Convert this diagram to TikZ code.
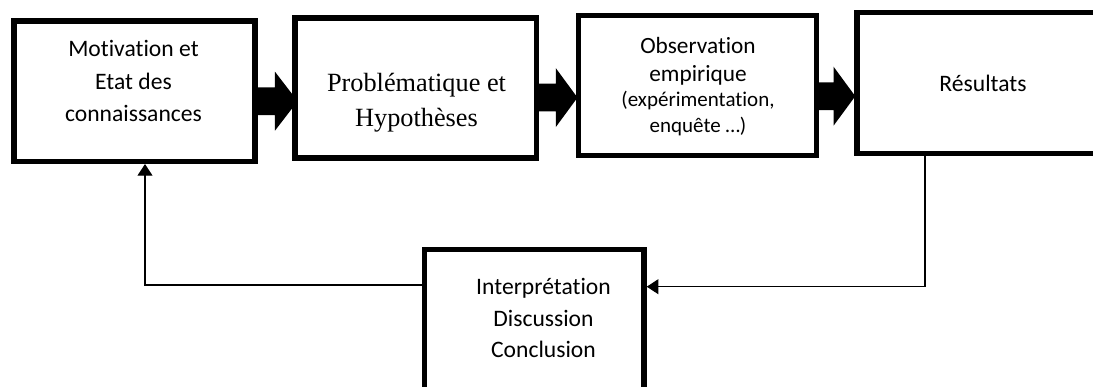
\documentclass[tikz,border=0pt]{standalone}
\usepackage{fontspec}
\usetikzlibrary{arrows.meta,calc}
\newfontfamily\calfont[Ligatures=NoCommon]{Carlito}
\newfontfamily\tmsfont{Liberation Serif}
\newcommand{\bigarr}[3]{%
  \fill ($(#1)+(0,-13.85)$) -- ($(#2)+(-#3,-13.85)$) -- ($(#2)+(-#3,-29.5)$)
    -- (#2) -- ($(#2)+(-#3,29.5)$) -- ($(#2)+(-#3,13.85)$) -- ($(#1)+(0,13.85)$) -- cycle;}
\begin{document}
\begin{tikzpicture}[x=1pt,y=-1pt,
  box/.style={draw, line width=5.5pt, inner sep=0pt, line join=miter},
  caltext/.style={font=\calfont\fontsize{23.6}{28}\selectfont, anchor=base, inner sep=0pt},
  calmid/.style={font=\calfont\fontsize{23.3}{28}\selectfont, anchor=base, inner sep=0pt},
  calsmall/.style={font=\calfont\fontsize{21}{25}\selectfont, anchor=base, inner sep=0pt},
  tmstext/.style={font=\tmsfont\fontsize{26.3}{31}\selectfont, anchor=base, inner sep=0pt},
  thinarrow/.style={line width=1.2pt, -{Triangle[length=11.7pt,width=15pt]}}]
\useasboundingbox (0,0) rectangle (1093,387);
\clip (0,0) rectangle (1093,387);
\fill[white] (0,0) rectangle (1093,387);

% boxes
\node[box, minimum width=241.25pt, minimum height=140.3pt] (b1) at (134.4,91.15) {};
\node[box, minimum width=241.5pt, minimum height=140.25pt] (b2) at (415.75,87.9) {};
\node[box, minimum width=237.75pt, minimum height=140pt] (b3) at (697.6,85.5) {};
\node[box, minimum width=253pt, minimum height=140.75pt] (b4) at (983.5,83.1) {};
\node[box, minimum width=219.5pt, minimum height=170pt] (b5) at (534.25,334.5) {};

% texts
\node[caltext] (t1a) at (133.5,56.7) {Motivation et};
\node[caltext] (t1b) at (133.5,90) {Etat des};
\node[caltext] (t1c) at (133.5,121.7) {connaissances};

\node[tmstext] (t2a) at (416.5,91.7) {Problématique et};
\node[tmstext] (t2b) at (416.5,126.7) {Hypothèses};

\node[calmid] (t3a) at (698,53.3) {Observation};
\node[calmid] (t3b) at (698,81.7) {empirique};
\node[calsmall] (t3c) at (698,106.7) {(expérimentation,};
\node[calsmall] (t3d) at (698,132.3) {enquête …)};

\node[caltext] (t4a) at (983,92) {Résultats};

\node[caltext] (t5a) at (543.5,295) {Interprétation};
\node[caltext] (t5b) at (543.5,327) {Discussion};
\node[caltext] (t5c) at (543.5,358) {Conclusion};

% block arrows
\coordinate (y1) at (0,101.2);
\coordinate (y2) at (0,97.6);
\coordinate (y3) at (0,96.2);
\coordinate (s1) at ($(b1.east |- y1)+(-2,0)$);
\coordinate (e1) at ($(b2.west |- y1)+(5.4,0)$);
\coordinate (s2) at ($(b2.east |- y2)+(-2,0)$);
\coordinate (e2) at ($(b3.west |- y2)+(1.5,0)$);
\coordinate (s3) at ($(b3.east |- y3)+(-2,0)$);
\coordinate (e3) at ($(b4.west |- y3)+(1,0)$);
\bigarr{s1}{e1}{22.7}
\bigarr{s2}{e2}{21.7}
\bigarr{s3}{e3}{21.7}

% feedback lines
\coordinate (k1) at (925,286.7);
\coordinate (k2) at (145,285);
\draw[thinarrow] (b4.south -| k1) |- (b5.east |- k1);
\draw[thinarrow] (b5.west |- k2) -| (b1.south -| k2);
\end{tikzpicture}
\end{document}
